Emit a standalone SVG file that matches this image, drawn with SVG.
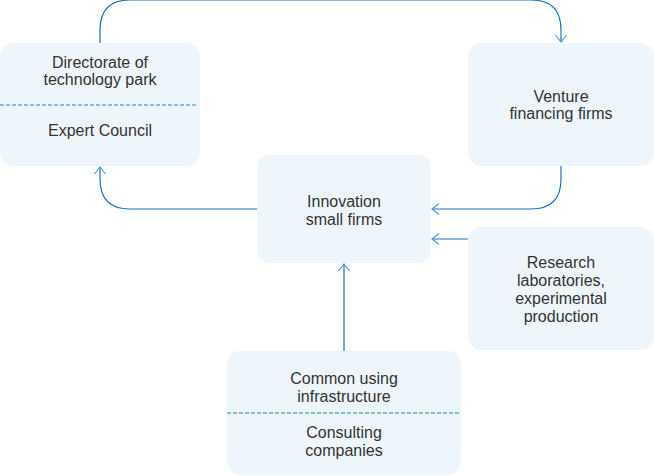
<svg xmlns="http://www.w3.org/2000/svg" width="654" height="476" viewBox="0 0 654 476">
<style>
.box{fill:#eef6fc;stroke:none}
.dash{stroke:#5aaee0;stroke-width:1.5;stroke-dasharray:4 2;fill:none}
.lbl{font-family:"Liberation Sans",Arial,sans-serif;font-size:16px;fill:#333;text-anchor:middle}
.edge{fill:none;stroke:#1773bf;stroke-width:1.2;marker-end:url(#arr)}
</style>
<defs>
<marker id="arr" viewBox="0 0 10 14" refX="9" refY="7" markerWidth="10" markerHeight="14" markerUnits="userSpaceOnUse" orient="auto">
<path d="M2 1.5 L9 7 L2 12.5" fill="none" stroke="#4a9edb" stroke-width="1.2"/>
</marker>
</defs>
<g id="connectors">
<path class="edge" d="M100 43 V30 Q100 0 130 0 H531 Q561 0 561 30 V42"/>
<path class="edge" d="M561 166 V179 Q561 209 531 209 H432"/>
<path class="edge" d="M257 209 H130 Q100 209 100 179 V167"/>
<path class="edge" d="M468 239 H432"/>
<path class="edge" d="M344 351 V264"/>
</g>
<g id="directorate">
<rect class="box" x="0" y="43" width="200" height="123" rx="14"/>
<line class="dash" x1="0" y1="105" x2="197" y2="105"/>
<text class="lbl" x="100" y="68">Directorate of</text>
<text class="lbl" x="100" y="85">technology park</text>
<text class="lbl" x="100" y="136">Expert Council</text>
</g>
<g id="venture">
<rect class="box" x="468" y="43" width="186" height="123" rx="14"/>
<text class="lbl" x="561" y="102">Venture</text>
<text class="lbl" x="561" y="119">financing firms</text>
</g>
<g id="innovation">
<rect class="box" x="257" y="155" width="174" height="108" rx="12"/>
<text class="lbl" x="344" y="207">Innovation</text>
<text class="lbl" x="344" y="225">small firms</text>
</g>
<g id="research">
<rect class="box" x="468" y="227" width="186" height="123" rx="14"/>
<text class="lbl" x="561" y="268">Research</text>
<text class="lbl" x="561" y="286">laboratories,</text>
<text class="lbl" x="561" y="304">experimental</text>
<text class="lbl" x="561" y="322">production</text>
</g>
<g id="common">
<rect class="box" x="227" y="351" width="234" height="124" rx="14"/>
<line class="dash" x1="227" y1="413" x2="461" y2="413"/>
<text class="lbl" x="344" y="384">Common using</text>
<text class="lbl" x="344" y="402">infrastructure</text>
<text class="lbl" x="344" y="438">Consulting</text>
<text class="lbl" x="344" y="456">companies</text>
</g>
</svg>
